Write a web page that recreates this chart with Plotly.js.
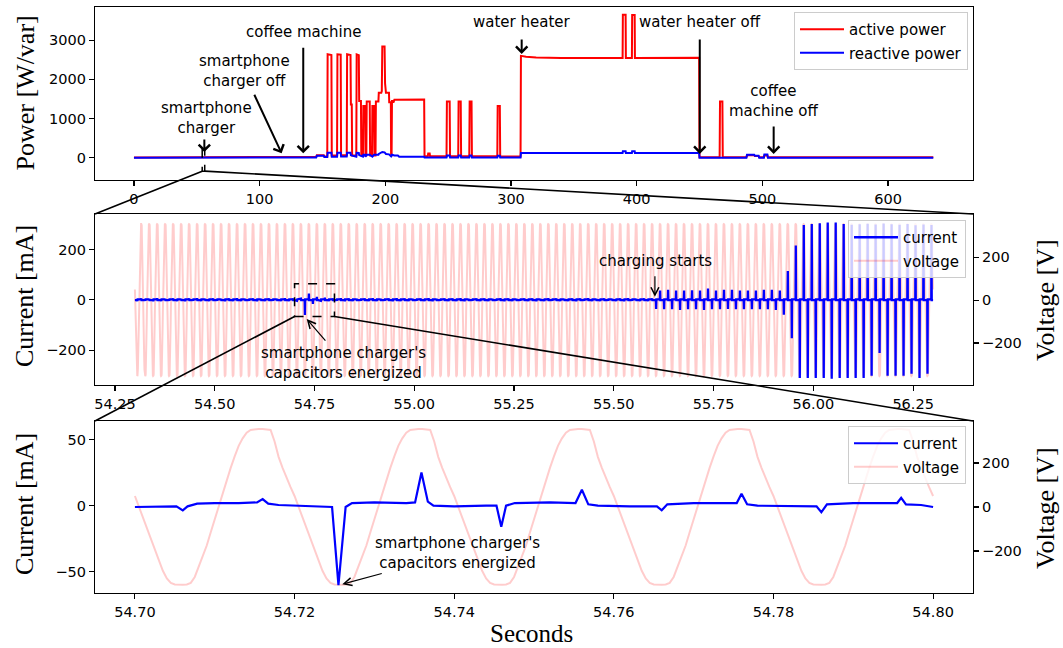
<!DOCTYPE html>
<html>
<head>
<meta charset="utf-8">
<script src="https://cdn.plot.ly/plotly-3.0.1.min.js"></script>
<style>
  html, body { margin: 0; padding: 0; background: #fff; }
  #chart { width: 1063px; height: 648px; }
</style>
</head>
<body>
<div id="chart"></div>
<script>
// ---------------------------------------------------------------
// Aggregate power of the household over the whole recording (s)
// ---------------------------------------------------------------
const ACTIVE_T = [
  0, 54, 54.3, 56.3, 117, 117.5, 130, 145, 145.5, 151,
  151.5, 153.8, 154.1, 157.1, 157.4, 161.6, 161.9, 164.5, 164.8, 169.3,
  169.6, 172.3, 172.6, 173.3, 173.6, 176.9, 177.2, 178.9, 179.2, 180.6,
  180.9, 182.2, 182.5, 183.9, 184.2, 184.9, 185.2, 187.6, 187.9, 189.4,
  189.7, 191.0, 191.3, 192.2, 192.5, 194.5, 194.8, 196.8, 197.2, 197.6,
  199.4, 199.8, 200.5, 202.9, 203.1, 204.4, 204.6, 205.0, 205.3, 206.0,
  206.4, 207.2, 230.9, 231.2, 233.8, 234.1, 235.3, 235.6, 248.7, 249.0,
  251.2, 251.5, 258.0, 258.3, 260.0, 260.3, 266.8, 267.1, 268.6, 268.9,
  289.1, 289.4, 291.1, 291.4, 307.6, 307.9, 312, 320, 340, 388.8,
  389.0, 391.2, 391.4, 396.2, 396.4, 398.4, 398.6, 420, 449.7, 450.0,
  466.0, 466.3, 468.2, 468.5, 487.3, 487.8, 493.5, 494.0, 497.0, 497.5,
  501.2, 501.6, 504.0, 504.4, 560, 636
];
const ACTIVE_W = [
  12, 12, 16, 16, 16, 10, 10, 25, 70, 70,
  35, 35, 2640, 2620, 60, 60, 2640, 2630, 70, 70,
  2640, 2620, 1360, 1360, 60, 60, 2640, 2620, 1450, 1450,
  60, 60, 1320, 1320, 60, 60, 1440, 1440, 60, 60,
  1320, 1320, 60, 60, 1440, 1440, 1660, 1660, 1700, 2840,
  2840, 1900, 1660, 1660, 1420, 1420, 60, 60, 1450, 1450,
  1410, 1480, 1490, 40, 40, 110, 110, 40, 40, 1440,
  1440, 40, 40, 1440, 1440, 40, 40, 1440, 1440, 40,
  40, 1320, 1320, 35, 35, 2600, 2580, 2560, 2548, 2548,
  3650, 3650, 2548, 2548, 3640, 3640, 2548, 2550, 2552, 18,
  18, 1440, 1440, 18, 18, 70, 70, 45, 45, 18,
  18, 60, 60, 18, 15, 15
];
const REACTIVE_T = [
  0, 54, 54.3, 56.3, 117, 117.5, 130, 145, 145.5, 151,
  151.5, 153.8, 154.1, 157.1, 157.4, 161.6, 161.9, 164.5, 164.8, 169.3,
  169.6, 172.3, 172.6, 176.9, 177.2, 178.9, 179.2, 182.2, 182.5, 183.9,
  184.2, 185.2, 187.6, 189.7, 191.0, 192.5, 194.5, 194.8, 197.6, 199.4,
  200.5, 202.9, 204.6, 205.3, 207.2, 210, 211, 230.9, 231.2, 248.7,
  249.0, 251.2, 251.5, 258.0, 258.3, 260.0, 260.3, 266.8, 267.1, 268.6,
  268.9, 289.1, 289.4, 291.1, 291.4, 307.6, 307.9, 388.8, 389.0, 391.2,
  391.4, 396.2, 396.4, 398.4, 398.6, 449.7, 450.0, 487.3, 487.8, 493.5,
  494.0, 497.0, 497.5, 501.2, 501.6, 504.0, 504.4, 636
];
const REACTIVE_VAR = [
  0, 0, 5, 5, 5, 0, 0, 10, 55, 55,
  20, 20, 130, 130, 30, 30, 130, 130, 35, 35,
  130, 130, 70, 30, 130, 125, 70, 30, 80, 80,
  30, 80, 80, 30, 80, 80, 80, 100, 150, 140,
  100, 90, 40, 80, 60, 60, 30, 30, 10, 10,
  60, 60, 10, 10, 60, 60, 10, 10, 60, 60,
  10, 10, 55, 55, 10, 10, 125, 125, 170, 170,
  125, 125, 170, 170, 125, 125, 0, 0, 80, 80,
  55, 55, 0, 0, 85, 85, 0, 0
];

// ---------------------------------------------------------------
// Raw waveforms around the moment the phone charger is plugged in
// ---------------------------------------------------------------
// One mains cycle of voltage (V), one sample every 0.5 ms
const VOLT_CYCLE = [
  50, 2, -48, -98, -148, -198, -245, -290, -325, -345,
  -352, -354, -354, -352, -345, -318, -270, -225, -175, -115,
  -55, 5, 65, 122, 178, 230, 278, 312, 338, 350,
  354, 355, 355, 354, 350, 298, 228, 178, 132, 90
];
// Current pulse peaks (mA) per cycle from 54.30 s: one at the voltage
// trough, one at the voltage crest
const SPIKE_NEG = [
  -5, -4, -6, -5, -4, -5, -6, -4, -5, -5,
  -4, -6, -5, -5, -4, -6, -5, -4, -5, -5,
  -3.5, -60, -16, -3.5, -5, -4, -6, -5, -4, -5,
  -5, -4, -6, -5, -5, -4, -5, -6, -4, -5,
  -5, -6, -4, -5, -5, -4, -6, -5, -4, -5,
  -6, -5, -4, -5, -5, -6, -4, -5, -5, -4,
  -5, -6, -4, -5, -5,
  -36, -37, -37, -40, -37, -37, -40, -37, -37, -36, -37, -37, -37, -37, -37, -40,
  -59, -152,
  -310, -310, -310, -310, -313, -310, -310, -310, -310, -301, -211, -301, -301, -301, -293, -310, -293
];
const SPIKE_POS = [
  6, 5, 7, 5, 6, 5, 6, 7, 5, 6,
  5, 6, 7, 5, 6, 5, 6, 5, 7, 6,
  5, 25, 12, 9, 6, 7, 6, 5, 6, 7,
  5, 6, 7, 6, 5, 6, 7, 5, 6, 6,
  7, 5, 6, 6, 5, 7, 6, 5, 6, 6,
  5, 7, 6, 5, 6, 6, 7, 5, 6, 5,
  6, 7, 5, 6, 6,
  37, 40, 37, 37, 38, 37, 45, 37, 40, 40, 37, 37, 37, 40, 40, 37,
  115, 216,
  297, 301, 304, 307, 307, 301, 298, 300, 302, 299, 303, 300, 298, 301, 296, 299, 297
];
// Resting current level (mA) on either side of the trough pulse
const REST_BEFORE_TROUGH = -1, REST_AFTER_TROUGH = 2;

// Current over the 100 ms close-up (s, mA)
const ZOOM_T = [
  54.7000, 54.7030, 54.7052, 54.7060, 54.7066, 54.7078, 54.7100, 54.7130, 54.7153, 54.7160,
  54.7167, 54.7180, 54.7200, 54.7220, 54.7247, 54.7255, 54.7264, 54.7272, 54.7300, 54.7340,
  54.7351, 54.7359, 54.7367, 54.7374, 54.7400, 54.7440, 54.7453, 54.7459, 54.7465, 54.7476,
  54.7520, 54.7552, 54.7560, 54.7568, 54.7580, 54.7620, 54.7654, 54.7660, 54.7667, 54.7700,
  54.7740, 54.7754, 54.7760, 54.7767, 54.7780, 54.7820, 54.7854, 54.7860, 54.7867, 54.7900,
  54.7950, 54.7955, 54.7960, 54.7966, 54.7985, 54.8000
];
const ZOOM_MA = [
  -1, -1, -0.5, -3.5, -0.5, 1.5, 2, 2, 2.5, 5,
  1.5, 0.5, 0, -0.5, -1, -60, -1, 2, 2.5, 2,
  2.5, 25, 3, 0, -0.5, 0, 0, -16, 0, 2,
  2.5, 2, 12, 1, 0, -0.5, -0.5, -3.5, 1, 2,
  2, 2, 9, 1, 0, -0.5, -0.5, -5, 1, 2,
  2.5, 2, 6, 1, 0.5, -1
];

// Tick labels
const TOP_X_TICKS = [0, 100, 200, 300, 400, 500, 600];
const TOP_Y_TICKS = [0, 1000, 2000, 3000];
const MID_X_TICKS = [54.25, 54.50, 54.75, 55.00, 55.25, 55.50, 55.75, 56.00, 56.25];
const BOT_X_TICKS = [54.70, 54.72, 54.74, 54.76, 54.78, 54.80];

// Event labels on the power trace: [time s, power W, text]
const EVENTS = [
  [56, 150, 'smartphone<br>charger'],
  [117.5, 117, 'smartphone<br>charger off'],
  [134.7, 117, 'coffee machine'],
  [308.5, 2650, 'water heater'],
  [450.2, 100, 'water heater off'],
  [509, 100, 'coffee<br>machine off']
];

// ---------------------------------------------------------------
// Build waveform traces
// ---------------------------------------------------------------
const MID_T0 = 54.30, MID_CYCLES = 100, BOT_T0 = 54.70, BOT_CYCLES = 5;
const CYCLE = 0.02, STEP = 0.0005;
const NEG_AT = 0.006, POS_AT = 0.016, HALF = 0.0006;

function tileVoltage(t0, n) {
  const x = [], y = [];
  for (let c = 0; c < n; c++) {
    VOLT_CYCLE.forEach((v, k) => { x.push(t0 + c * CYCLE + k * STEP); y.push(v); });
  }
  x.push(t0 + n * CYCLE); y.push(VOLT_CYCLE[0]);
  return { x, y };
}
function pulseCurrent() {
  const x = [], y = [];
  const a = REST_BEFORE_TROUGH, b = REST_AFTER_TROUGH;
  SPIKE_NEG.forEach((neg, c) => {
    const s = MID_T0 + c * CYCLE;
    x.push(s, s + NEG_AT - HALF, s + NEG_AT, s + NEG_AT + HALF,
           s + POS_AT - HALF, s + POS_AT, s + POS_AT + HALF);
    y.push(a, a, neg, b, b, SPIKE_POS[c], a);
  });
  x.push(MID_T0 + SPIKE_NEG.length * CYCLE); y.push(a);
  return { x, y };
}
const vMid = tileVoltage(MID_T0, MID_CYCLES);
const vBot = tileVoltage(BOT_T0, BOT_CYCLES);
const iMid = pulseCurrent();

// ---------------------------------------------------------------
// Layout geometry
// ---------------------------------------------------------------
const W = 1063, H = 648;
const M = { l: 95, r: 90, t: 7, b: 55 };
const PW = W - M.l - M.r, PH = H - M.t - M.b;
const px = x => (x - M.l) / PW;          // pixel -> paper
const py = y => (H - M.b - y) / PH;

const DOM_X = [0, 1];
const DOM_TOP_Y = [py(180), py(7)], DOM_MID_Y = [py(385), py(214)], DOM_BOT_Y = [py(593), py(421)];

const R_TOP_X = [-31, 667.6], R_TOP_Y = [-564, 3846];
const R_MID_X = [54.2, 56.4], R_MID_I = [-338, 341], R_MID_V = [-396, 402];
const R_BOT_X = [54.695, 54.805], R_BOT_I = [-66, 64], R_BOT_V = [-391, 391];

const toPaper = (v, r, d) => d[0] + (v - r[0]) / (r[1] - r[0]) * (d[1] - d[0]);

const RED = '#ff0000', BLUE = '#0000ff', PINK = 'rgba(255,0,0,0.2)';
const TICK_FONT = { family: 'DejaVu Sans', size: 14.5, color: '#000' };
const TEXT_FONT = { family: 'DejaVu Sans', size: 15, color: '#000' };
const YTITLE_FONT = { family: 'Liberation Serif', size: 26, color: '#000' };
const XTITLE_FONT = { family: 'Liberation Serif', size: 25, color: '#000' };

function axis(extra) {
  return Object.assign({
    showline: true, linecolor: '#000', linewidth: 1.1, mirror: true,
    ticks: 'outside', ticklen: 5, tickwidth: 1.1, tickcolor: '#000',
    showgrid: false, zeroline: false, tickfont: TICK_FONT, fixedrange: true
  }, extra);
}
const MINUS = v => (v < 0 ? '\u2212' + Math.abs(v) : String(v));

const traces = [
  { x: ACTIVE_T, y: ACTIVE_W, name: 'active power', legendgroup: 'a',
    line: { color: RED, width: 2 }, xaxis: 'x', yaxis: 'y', legend: 'legend' },
  { x: REACTIVE_T, y: REACTIVE_VAR, name: 'reactive power', legendgroup: 'b',
    line: { color: BLUE, width: 2 }, xaxis: 'x', yaxis: 'y', legend: 'legend' },
  { x: iMid.x, y: iMid.y, name: 'current', legendgroup: 'c',
    line: { color: BLUE, width: 2.3 }, xaxis: 'x2', yaxis: 'y3', legend: 'legend2' },
  { x: vMid.x, y: vMid.y, name: 'voltage', legendgroup: 'd',
    line: { color: PINK, width: 2 }, xaxis: 'x2', yaxis: 'y2', legend: 'legend2' },
  { x: ZOOM_T, y: ZOOM_MA, name: 'current', legendgroup: 'e',
    line: { color: BLUE, width: 2.2 }, xaxis: 'x3', yaxis: 'y5', legend: 'legend3' },
  { x: vBot.x, y: vBot.y, name: 'voltage', legendgroup: 'f',
    line: { color: PINK, width: 2 }, xaxis: 'x3', yaxis: 'y4', legend: 'legend3' }
].map(t => Object.assign({ type: 'scatter', mode: 'lines' }, t));

const fmt2 = v => v.toFixed(2);
const legendBox = (xr, yt) => ({
  x: px(xr), xanchor: 'right', y: py(yt), yanchor: 'top',
  bgcolor: 'rgba(255,255,255,0.8)', bordercolor: '#cccccc', borderwidth: 1,
  font: TEXT_FONT, tracegroupgap: 1, itemwidth: 44
});

const layout = {
  width: W, height: H, margin: M,
  paper_bgcolor: '#fff', plot_bgcolor: '#fff',
  showlegend: true,
  font: TEXT_FONT,
  // power panel
  xaxis: axis({ domain: DOM_X, anchor: 'y', range: R_TOP_X,
    tickvals: TOP_X_TICKS, ticktext: TOP_X_TICKS.map(String) }),
  yaxis: axis({ domain: DOM_TOP_Y, anchor: 'x', range: R_TOP_Y,
    tickvals: TOP_Y_TICKS, ticktext: TOP_Y_TICKS.map(String) }),
  // two-second waveform panel: voltage right, current left (drawn on top)
  xaxis2: axis({ domain: DOM_X, anchor: 'y2', range: R_MID_X,
    tickvals: MID_X_TICKS, ticktext: MID_X_TICKS.map(fmt2) }),
  yaxis2: axis({ domain: DOM_MID_Y, anchor: 'x2', side: 'right', mirror: false, range: R_MID_V,
    tickvals: [-200, 0, 200], ticktext: [-200, 0, 200].map(MINUS) }),
  yaxis3: axis({ overlaying: 'y2', anchor: 'x2', side: 'left', mirror: false, range: R_MID_I,
    tickvals: [-200, 0, 200], ticktext: [-200, 0, 200].map(MINUS) }),
  // 100 ms close-up panel
  xaxis3: axis({ domain: DOM_X, anchor: 'y4', range: R_BOT_X,
    tickvals: BOT_X_TICKS, ticktext: BOT_X_TICKS.map(fmt2) }),
  yaxis4: axis({ domain: DOM_BOT_Y, anchor: 'x3', side: 'right', mirror: false, range: R_BOT_V,
    tickvals: [-200, 0, 200], ticktext: [-200, 0, 200].map(MINUS) }),
  yaxis5: axis({ overlaying: 'y4', anchor: 'x3', side: 'left', mirror: false, range: R_BOT_I,
    tickvals: [-50, 0, 50], ticktext: [-50, 0, 50].map(MINUS) }),
  legend: legendBox(968, 12),
  legend2: legendBox(966, 220),
  legend3: legendBox(966, 426),
  shapes: [],
  annotations: []
};

// zoom indicator rectangles and connector lines
const DASH = { color: '#000', width: 1.5, dash: 'dash' };
const SOLID = { color: '#000', width: 1.6 };
const MID_T1 = MID_T0 + MID_CYCLES * CYCLE, BOT_T1 = BOT_T0 + BOT_CYCLES * CYCLE;
layout.shapes.push(
  { type: 'rect', xref: 'x', yref: 'y', x0: MID_T0, x1: MID_T1,
    y0: R_MID_I[0], y1: R_MID_I[1], line: DASH },
  { type: 'rect', xref: 'x2', yref: 'y3', x0: BOT_T0, x1: BOT_T1,
    y0: R_BOT_I[0], y1: R_BOT_I[1], line: DASH }
);
const rectTopY = toPaper(R_MID_I[0], R_TOP_Y, DOM_TOP_Y);
const rectMidY = toPaper(R_BOT_I[0], R_MID_I, DOM_MID_Y);
[
  [toPaper(MID_T0, R_TOP_X, DOM_X), rectTopY, 0, DOM_MID_Y[1]],
  [toPaper(MID_T1, R_TOP_X, DOM_X), rectTopY, 1, DOM_MID_Y[1]],
  [toPaper(BOT_T0, R_MID_X, DOM_X), rectMidY, 0, DOM_BOT_Y[1]],
  [toPaper(BOT_T1, R_MID_X, DOM_X), rectMidY, 1, DOM_BOT_Y[1]]
].forEach(([x0, y0, x1, y1]) => layout.shapes.push(
  { type: 'line', xref: 'paper', yref: 'paper', x0, y0, x1, y1, line: SOLID }));

// event arrows on the power panel
const EVENT_ARROWS = [[0, -14], [-28, -60], [0, -107], [0, -16], [0, -116], [0, -29]];
const EVENT_TEXT_POS = [[206, 118], [244, 70.5], [303, 32], [522, 22], [700, 22], [773, 101]];
EVENTS.forEach(([t, p, label], i) => {
  layout.annotations.push({
    xref: 'x', yref: 'y', x: t, y: p, ax: EVENT_ARROWS[i][0], ay: EVENT_ARROWS[i][1],
    axref: 'pixel', ayref: 'pixel', text: '', showarrow: true,
    arrowhead: 4, arrowsize: 1.1, arrowwidth: 2, arrowcolor: '#000', standoff: 0
  });
  layout.annotations.push({
    xref: 'paper', yref: 'paper', x: px(EVENT_TEXT_POS[i][0]), y: py(EVENT_TEXT_POS[i][1]),
    xanchor: 'center', yanchor: 'middle', text: label, showarrow: false, font: TEXT_FONT
  });
});

// waveform annotations
const CAP_TEXT = "smartphone charger's<br>capacitors energized";
const thinArrow = { showarrow: true, text: '', arrowhead: 5, arrowsize: 1.3, arrowwidth: 1.2, arrowcolor: '#000' };
const label = (x, y, text) => ({ xref: 'paper', yref: 'paper', x: px(x), y: py(y), text,
  showarrow: false, xanchor: 'center', yanchor: 'middle', font: TEXT_FONT });
layout.annotations.push(
  Object.assign({ xref: 'x2', yref: 'y3', x: 55.603, y: 12, ax: 0, ay: -22 }, thinArrow),
  label(655, 261, 'charging starts'),
  Object.assign({ xref: 'x2', yref: 'y3', x: 54.7305, y: -76, ax: 20, ay: 23 }, thinArrow),
  label(343, 363, CAP_TEXT),
  Object.assign({ xref: 'x3', yref: 'y5', x: 54.72598, y: -59.3, ax: 41, ay: -11 }, thinArrow),
  label(457, 552.5, CAP_TEXT)
);

// axis titles
[
  ['Power [W/var]', 25, 93.5, -90, YTITLE_FONT],
  ['Current [mA]', 24, 296, -90, YTITLE_FONT],
  ['Current [mA]', 24, 504, -90, YTITLE_FONT],
  ['Voltage [V]', 1045, 300, -90, YTITLE_FONT],
  ['Voltage [V]', 1045, 508, -90, YTITLE_FONT],
  ['Seconds', 531, 633, 0, XTITLE_FONT]
].forEach(([text, x, y, ang, font]) => layout.annotations.push({
  xref: 'paper', yref: 'paper', x: px(x), y: py(y), text, textangle: ang,
  xanchor: 'center', yanchor: 'middle', showarrow: false, font
}));

Plotly.newPlot('chart', traces, layout, { displayModeBar: false, staticPlot: true });
</script>
</body>
</html>
